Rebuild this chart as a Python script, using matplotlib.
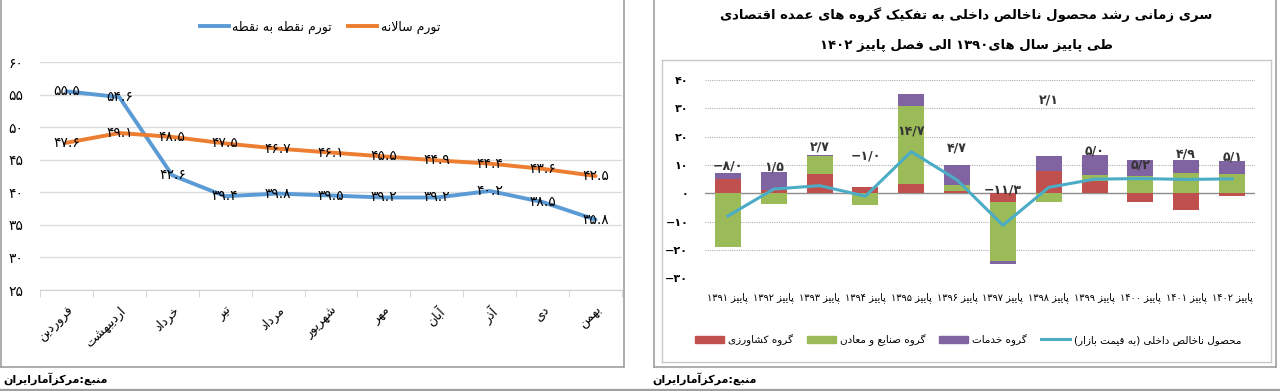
import re
import numpy as np
import matplotlib
matplotlib.use("Agg")
import matplotlib.pyplot as plt
from matplotlib.lines import Line2D
from matplotlib.patches import Patch

# -----------------------------
# Datos
# -----------------------------
months = ["فروردین", "اردیبهشت", "خرداد", "تیر", "مرداد", "شهریور",
          "مهر", "آبان", "آذر", "دی", "بهمن"]
inflation_p2p = [55.5, 54.6, 42.6, 39.4, 39.8, 39.5, 39.2, 39.2, 40.2, 38.5, 35.8]
inflation_annual = [47.6, 49.1, 48.5, 47.5, 46.7, 46.1, 45.5, 44.9, 44.4, 43.6, 42.5]

years = [1391, 1392, 1393, 1394, 1395, 1396, 1397, 1398, 1399, 1400, 1401, 1402]
agri = [5.0, 1.0, 6.7, 2.2, 3.2, 0.8, -3.0, 7.9, 4.2, -3.1, -5.8, -1.1]
industry = [-19.0, -3.6, 6.4, -4.2, 27.6, 2.0, -20.8, -3.1, 2.1, 6.1, 7.2, 6.7]
services = [2.1, 6.5, 0.3, 0.0, 4.4, 7.1, -1.2, 5.3, 7.2, 5.8, 4.7, 4.6]
gdp = [-8.0, 1.5, 2.7, -1.0, 14.7, 4.7, -11.3, 2.1, 5.0, 5.2, 4.9, 5.1]
gdp_label_y = [9.5, 9.2, 16.3, 13.1, 21.9, 15.9, 1.0, 33.0, 14.8, 9.9, 13.8, 12.7]

# -----------------------------
# Texto persa (sin libreria de shaping)
# -----------------------------
AR = {"ا": 0xFE8D, "آ": 0xFE81, "د": 0xFEA9, "ذ": 0xFEAB, "ر": 0xFEAD,
      "ز": 0xFEAF, "و": 0xFEED,
      "ب": 0xFE8F, "پ": 0xFB56, "ت": 0xFE95, "ح": 0xFEA1, "خ": 0xFEA5,
      "س": 0xFEB1, "ش": 0xFEB5, "ص": 0xFEB9, "ط": 0xFEC1, "ع": 0xFEC9,
      "ف": 0xFED1, "ق": 0xFED5, "ک": 0xFB8E, "گ": 0xFB92, "ل": 0xFEDD,
      "م": 0xFEE1, "ن": 0xFEE5, "ه": 0xFEE9, "ی": 0xFBFC}
RIGHT_ONLY = set("اآدذرزو")
MIRROR = str.maketrans("()", ")(")
NUM = re.compile(r"([\-−]?[0-9۰-۹][0-9۰-۹./]*)")
FA_DIGITS = str.maketrans("0123456789-", "۰۱۲۳۴۵۶۷۸۹−")


def shape(s):
    out = []
    i = 0
    while i < len(s):
        c = s[i]
        if c not in AR:
            out.append(c)
            i += 1
            continue
        prev = s[i - 1] if i > 0 else ""
        jp = prev in AR and prev not in RIGHT_ONLY
        if c == "ل" and i + 1 < len(s) and s[i + 1] in "اآ":
            base = 0xFEFB if s[i + 1] == "ا" else 0xFEF5
            out.append(chr(base + jp))
            i += 2
            continue
        nxt = s[i + 1] if i + 1 < len(s) else ""
        jn = c not in RIGHT_ONLY and nxt in AR
        f = 3 if (jp and jn) else 2 if jn else 1 if jp else 0
        out.append(chr(AR[c] + f))
        i += 1
    return "".join(out)


def fa(s):
    s = shape(s)
    parts = NUM.split(s)
    out = []
    for p in reversed(parts):
        if NUM.fullmatch(p):
            out.append(p)
        else:
            out.append(p[::-1].translate(MIRROR))
    return "".join(out)


def num(v, sep="."):
    return f"{v:.1f}".replace(".", sep).translate(FA_DIGITS)


# -----------------------------
# Figura
# -----------------------------
W, H = 1280, 391
fig = plt.figure(figsize=(W / 100, H / 100), dpi=100)
fig.patch.set_facecolor("white")


def fx(px):
    return px / W


def fy(py):
    return 1 - py / H


def hline(x0, x1, y, color, lw):
    fig.add_artist(Line2D([fx(x0), fx(x1)], [fy(y), fy(y)], color=color, lw=lw))


def vline(x, y0, y1, color, lw):
    fig.add_artist(Line2D([fx(x), fx(x)], [fy(y0), fy(y1)], color=color, lw=lw))


# marcos
vline(1, -2, 367, "#a0a0a0", 1.2)
vline(624, -2, 367, "#a0a0a0", 1.2)
hline(1, 624, 367, "#a0a0a0", 1.2)
vline(654, -2, 367, "#a0a0a0", 1.2)
vline(1276, -2, 367, "#a0a0a0", 1.2)
hline(654, 1276, 367, "#a0a0a0", 1.2)
vline(662, 60, 362, "#c8c8c8", 1.0)
vline(1271, 60, 362, "#c8c8c8", 1.0)
hline(662, 1271, 60, "#c8c8c8", 1.0)
hline(662, 1271, 362, "#c8c8c8", 1.0)
hline(0, W, 389.5, "#a0a0a0", 1.6)

fig.text(fx(3), fy(379), fa("منبع:مرکزآمارایران"), ha="left", va="center",
         fontsize=8, fontweight="bold")
fig.text(fx(652), fy(379), fa("منبع:مرکزآمارایران"), ha="left", va="center",
         fontsize=8, fontweight="bold")

# -----------------------------
# Panel izquierdo: tasa de inflacion
# -----------------------------
blue = "#5B9BD5"
orange = "#ED7D31"
ax1 = fig.add_axes([fx(40), fy(290), (622 - 40) / W, (290 - 62) / H])
x1 = np.arange(len(months))
ax1.plot(x1, inflation_p2p, color=blue, lw=2.8, solid_capstyle="round", zorder=3)
ax1.plot(x1, inflation_annual, color=orange, lw=2.8, solid_capstyle="round", zorder=3)
for i in range(len(months)):
    ax1.text(x1[i], inflation_p2p[i], num(inflation_p2p[i]), ha="center", va="center",
             fontsize=10, zorder=4)
    ax1.text(x1[i], inflation_annual[i], num(inflation_annual[i]), ha="center", va="center",
             fontsize=10, zorder=4)

ax1.set_xlim(-0.5, len(months) - 0.5)
ax1.set_ylim(25, 60)
yt = list(range(25, 65, 5))
ax1.set_yticks(yt)
ax1.set_yticklabels([str(v).translate(FA_DIGITS) for v in yt], fontsize=10)
ax1.tick_params(axis="y", length=0, pad=12)
ax1.grid(axis="y", color="#dcdcdc", lw=1)
ax1.set_axisbelow(True)
for s in ["top", "left", "right"]:
    ax1.spines[s].set_visible(False)
ax1.spines["bottom"].set_color("#d0d0d0")
ax1.set_xticks(x1)
ax1.set_xticklabels([fa(m) for m in months], rotation=45, ha="right",
                    rotation_mode="anchor", fontsize=9)
ax1.tick_params(axis="x", length=0, pad=10)
ax1.set_xticks(np.arange(-0.5, len(months), 1), minor=True)
ax1.tick_params(axis="x", which="minor", length=5, color="#d0d0d0")

leg1 = fig.legend(
    [Line2D([], [], color=blue, lw=2.8), Line2D([], [], color=orange, lw=2.8)],
    [fa("تورم نقطه به نقطه"), fa("تورم سالانه")],
    loc="center", bbox_to_anchor=(fx(320), fy(27)), ncol=2, frameon=False,
    fontsize=9, handlelength=2.3, handletextpad=0.3, columnspacing=1.3)

# -----------------------------
# Panel derecho: crecimiento del PIB
# -----------------------------
red = "#C0504D"
green = "#9BBB59"
purple = "#8064A2"
aqua = "#4BACC6"
ax2 = fig.add_axes([fx(705), fy(278.3), (1255 - 705) / W, (278.3 - 80) / H])
x2 = np.arange(len(years))
pos_base = np.zeros(len(years))
neg_base = np.zeros(len(years))
for vals, col in [(agri, red), (industry, green), (services, purple)]:
    v = np.array(vals)
    bottom = np.where(v >= 0, pos_base, neg_base)
    ax2.bar(x2, v, width=0.57, bottom=bottom, color=col, zorder=2)
    pos_base = pos_base + np.where(v > 0, v, 0)
    neg_base = neg_base + np.where(v < 0, v, 0)
ax2.plot(x2, gdp, color=aqua, lw=2.2, zorder=3)
for i in range(len(years)):
    ax2.text(x2[i], gdp_label_y[i], num(gdp[i], "/"), ha="center", va="center",
             fontsize=9, fontweight="bold", color="#333333", zorder=4)

ax2.set_xlim(-0.5, len(years) - 0.5)
ax2.set_ylim(-30, 40)
yt2 = list(range(-30, 50, 10))
ax2.set_yticks(yt2)
ax2.set_yticklabels([str(v).translate(FA_DIGITS) for v in yt2], fontsize=8,
                    fontweight="bold")
ax2.tick_params(axis="y", length=0, pad=12)
ax2.grid(axis="y", color="#b0b0b0", lw=0.8, linestyle=(0, (1, 1)))
ax2.set_axisbelow(True)
ax2.axhline(0, color="#909090", lw=1, zorder=1)
for s in ax2.spines.values():
    s.set_visible(False)
ax2.set_xticks(x2)
ax2.set_xticklabels([fa("پاییز " + str(y).translate(FA_DIGITS)) for y in years],
                    fontsize=7)
ax2.tick_params(axis="x", length=0, pad=10)

fig.text(fx(966), fy(15), fa("سری زمانی رشد محصول ناخالص داخلی به تفکیک گروه های عمده اقتصادی"),
         ha="center", va="center", fontsize=9.5, fontweight="bold")
fig.text(fx(966), fy(45), fa("طی پاییز سال های1390 الی فصل پاییز 1402".translate(FA_DIGITS)),
         ha="center", va="center", fontsize=9.5, fontweight="bold")

fig.legend(
    [Patch(color=red), Patch(color=green), Patch(color=purple),
     Line2D([], [], color=aqua, lw=2.2)],
    [fa("گروه کشاورزی"), fa("گروه صنایع و معادن"), fa("گروه خدمات"),
     fa("محصول ناخالص داخلی (به قیمت بازار)")],
    loc="center", bbox_to_anchor=(fx(968), fy(340)), ncol=4, frameon=False,
    fontsize=7.5, handlelength=2.8, handleheight=0.7, handletextpad=0.4,
    columnspacing=1.3)

fig.savefig("out.png", dpi=100)
